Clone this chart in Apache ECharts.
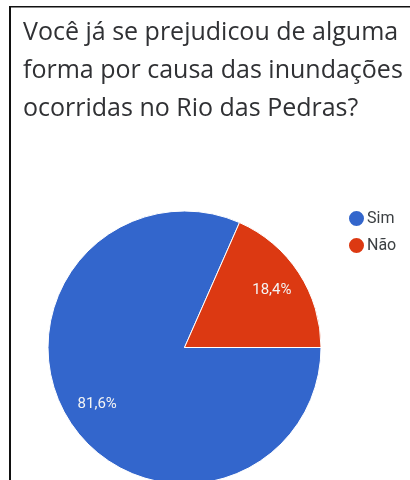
<!DOCTYPE html>
<html>
<head>
<meta charset="utf-8">
<script src="https://cdn.jsdelivr.net/npm/echarts@6/dist/echarts.min.js"></script>
<style>
  html, body { margin: 0; padding: 0; background: #fff; }
  #chart { width: 410px; height: 480px; }
</style>
</head>
<body>
<div id="chart"></div>
<script>
// Survey answers and their shares (%)
const categories = ['Sim', 'Não'];
const shares = [81.6, 18.4];
const colors = ['#3366cc', '#dc3912'];
const titleLines = [
  'Você já se prejudicou de alguma',
  'forma por causa das inundações',
  'ocorridas no Rio das Pedras?'
];

const pieData = categories.map((name, i) => ({
  name: name,
  value: shares[i],
  itemStyle: { color: colors[i] }
}));

const chart = echarts.init(document.getElementById('chart'), null, { renderer: 'canvas' });

chart.setOption({
  animation: false,
  backgroundColor: '#ffffff',
  title: {
    text: titleLines.join('\n'),
    left: 18,
    top: 9,
    textStyle: {
      fontFamily: 'Open Sans',
      fontSize: 25,
      fontWeight: 'normal',
      color: '#303134',
      lineHeight: 38
    }
  },
  legend: {
    orient: 'vertical',
    left: 342,
    top: 204,
    icon: 'circle',
    itemWidth: 17,
    itemHeight: 17,
    itemGap: 8,
    selectedMode: false,
    data: categories,
    textStyle: {
      fontFamily: 'Roboto',
      fontSize: 16,
      color: '#3c4043',
      padding: [0, 0, 0, -3]
    }
  },
  graphic: [
    // frame lines along the top and left edges
    { type: 'rect', shape: { x: 9, y: 6, width: 401, height: 1.5 }, style: { fill: '#111' }, silent: true },
    { type: 'rect', shape: { x: 9, y: 6, width: 2, height: 474 }, style: { fill: '#111' }, silent: true }
  ],
  series: [
    {
      type: 'pie',
      center: [184.5, 347.5],
      radius: 136.5,
      startAngle: 0,
      clockwise: true,
      silent: true,
      itemStyle: { borderColor: '#ffffff', borderWidth: 1 },
      label: { show: false },
      labelLine: { show: false },
      data: pieData
    },
    {
      // transparent ring used only to place the percentage labels
      type: 'pie',
      center: [184.5, 347.5],
      radius: [66, 136.5],
      startAngle: 0,
      clockwise: true,
      silent: true,
      itemStyle: { color: 'rgba(0,0,0,0)' },
      label: {
        show: true,
        position: 'inside',
        formatter: p => p.value.toFixed(1).replace('.', ',') + '%',
        fontFamily: 'Roboto',
        fontSize: 15,
        color: '#f4f4f4'
      },
      labelLine: { show: false },
      data: categories.map((name, i) => ({ name: name, value: shares[i] }))
    }
  ]
});
</script>
</body>
</html>
